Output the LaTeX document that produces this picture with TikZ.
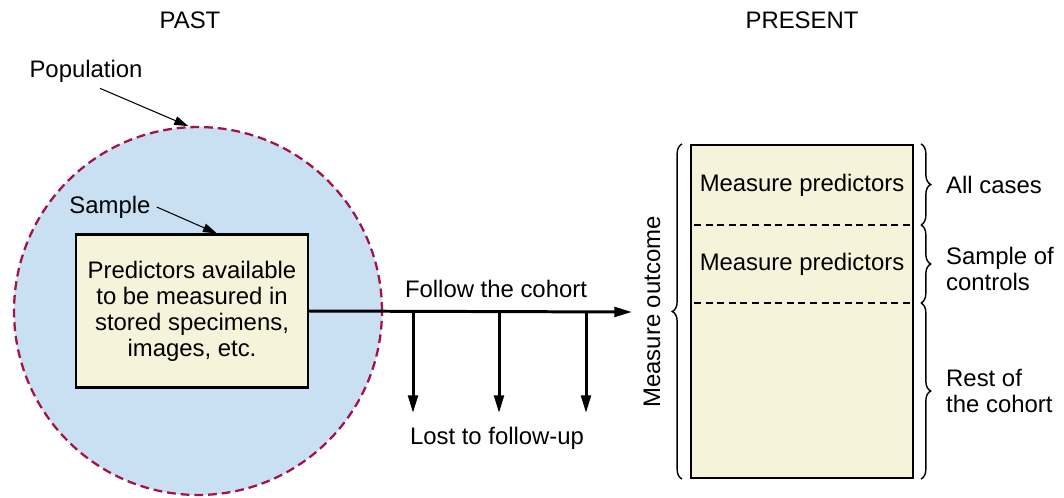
\documentclass[tikz,border=0pt]{standalone}
\usepackage{fontspec}
\setmainfont{Liberation Sans}
\usetikzlibrary{arrows.meta, positioning, decorations.pathreplacing}
\definecolor{popblue}{HTML}{C9E0F3}
\definecolor{popred}{HTML}{A3134A}
\definecolor{cream}{HTML}{F5F3DA}

\begin{document}
\begin{tikzpicture}[x=0.02cm, y=-0.02cm, font=\fontsize{13.6}{14.8}\selectfont,
  box/.style={draw, line width=1.2pt, fill=cream},
  flow/.style={line width=1.7pt, -{Triangle[length=10pt, width=5.5pt]}},
  pointer/.style={line width=0.6pt, -{Triangle[length=8pt, width=5pt]}},
  brace/.style={decorate, decoration={brace, amplitude=5.5pt}, line width=0.8pt},
  cut/.style={line width=0.75pt, dash pattern=on 4pt off 2.6pt},
  side/.style={anchor=west, align=left}]
  \useasboundingbox (0,0) rectangle (1064,497);

  % past
  \node (past) at (190,20) {PAST};
  \node[circle, minimum size=7.36cm, fill=popblue, draw=popred, line width=1.3pt,
        dash pattern=on 5pt off 2.8pt] (pop) at (198,311) {};
  \node[box, minimum width=4.64cm, minimum height=3.06cm, align=center] (pred) at (192,311) {
    Predictors available\\
    to be measured in\\
    stored specimens,\\
    images, etc.};
  \node (poplabel) at (86,71) {Population};
  \node (samplabel) at (110,207) {Sample};
  \draw[pointer] ([xshift=0.28cm]poplabel.south) -- (pop.93);
  \draw[pointer] (samplabel.east) -- ([xshift=0.5cm]pred.north);

  % follow-up
  \coordinate (end) at (632,312);
  \draw[flow] (pred.east) -- (end);
  \node (follow) at (496,289) {Follow the cohort};
  \foreach \x [count=\i] in {413,499,586} {
    \coordinate (lost\i) at (\x,413);
    \draw[flow] (lost\i |- end) -- (lost\i);
  }
  \node (lost) at (497,438) {Lost to follow-up};

  % present
  \node (present) at (802,20) {PRESENT};
  \node[box, minimum width=4.44cm, minimum height=6.66cm] (cohort) at (802,311.5) {};
  \coordinate (cut1) at (694,225);
  \coordinate (cut2) at (694,303);
  \draw[cut] (cut1) -- ([xshift=-0.08cm]cut1 -| cohort.east);
  \draw[cut] (cut2) -- ([xshift=-0.08cm]cut2 -| cohort.east);
  \node (cases) at (802,185) {Measure predictors};
  \node (controls) at (802,264) {Measure predictors};

  % braces
  \draw[brace] ([xshift=-0.16cm]cohort.south west) -- ([xshift=-0.16cm]cohort.north west);
  \node[rotate=90] (outcome) at (652,312) {Measure outcome};
  \draw[brace] ([xshift=0.14cm]cohort.north east) -- ([xshift=0.14cm]cohort.north east |- cut1);
  \draw[brace] ([xshift=0.14cm]cohort.north east |- cut1) -- ([xshift=0.14cm]cohort.north east |- cut2);
  \draw[brace] ([xshift=0.14cm]cohort.north east |- cut2) -- ([xshift=0.14cm]cohort.south east);
  \node[side] (all) at (940,185) {All cases};
  \node[side] (sample) at (940,269) {Sample of\\controls};
  \node[side] (rest) at (940,391) {Rest of\\the cohort};
\end{tikzpicture}
\end{document}
